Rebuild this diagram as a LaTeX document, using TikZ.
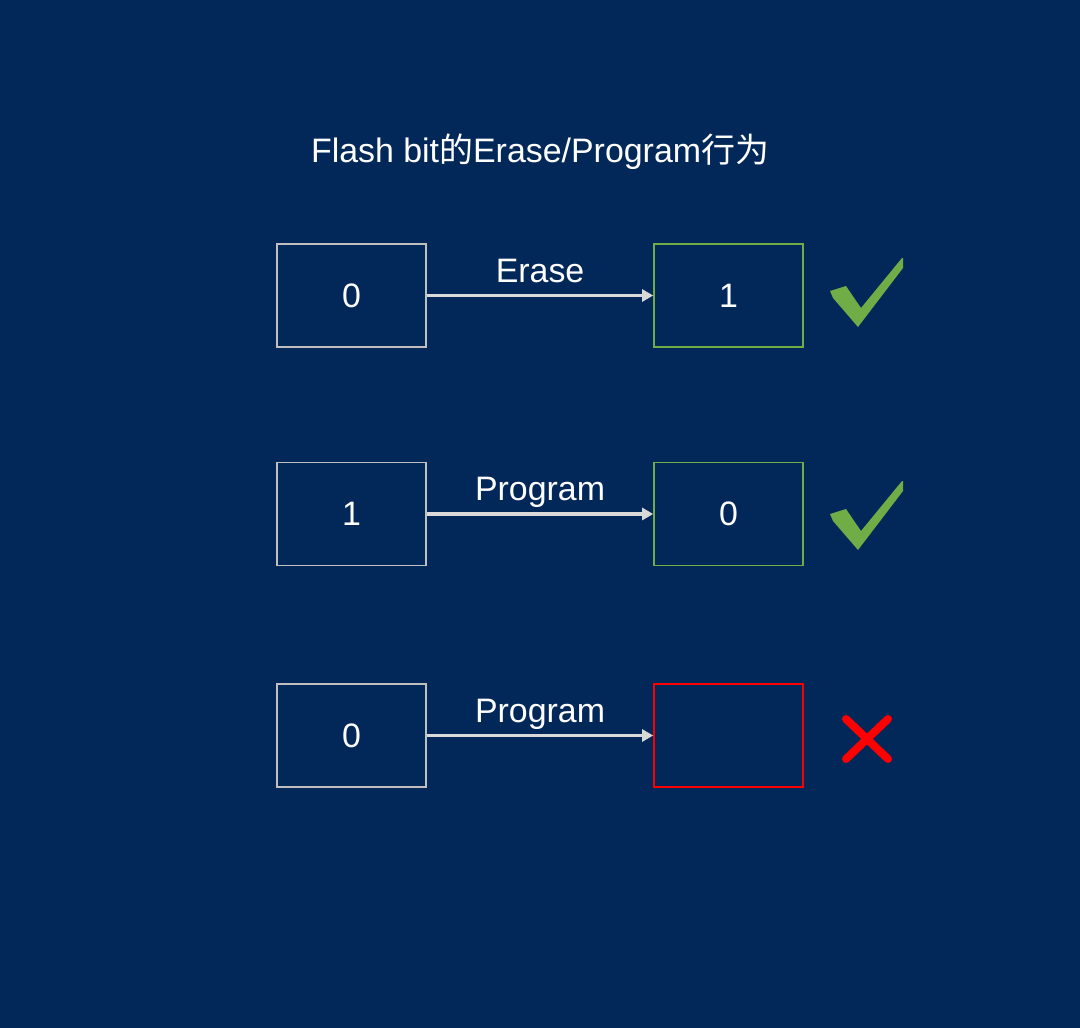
\documentclass[tikz,border=0pt]{standalone}
\usepackage{fontspec}
\setmainfont{Liberation Sans}
\newfontfamily\cjk{Noto Sans CJK SC}
\usetikzlibrary{arrows.meta}
\definecolor{bgnavy}{HTML}{02285A}
\definecolor{boxgray}{HTML}{BFBFBF}
\definecolor{arrowgray}{HTML}{D9D9D9}
\definecolor{okgreen}{HTML}{70AD47}
\definecolor{badred}{HTML}{FF0000}
\newcommand{\bigtext}{\fontsize{19.3}{23}\selectfont}
\tikzset{
  bitbox/.style={draw=boxgray, minimum width=2.98cm, minimum height=2.06cm,
    inner sep=0pt, line width=1.1pt, text=white, font=\bigtext},
  okbox/.style={bitbox, draw=okgreen},
  badbox/.style={bitbox, draw=badred},
  opflow/.style={-{Triangle[length=0.22cm, width=0.24cm]}, line width=2pt,
    color=arrowgray},
  oplabel/.style={anchor=base, yshift=0.27cm, text=white, font=\bigtext},
  headline/.style={anchor=base, text=white, font=\bigtext},
  tick/.style={fill=okgreen},
  cross/.style={draw=badred, line width=0.16cm, line cap=round},
}
\begin{document}
\begin{tikzpicture}[x=0.02cm,y=-0.02cm]
  % page: 1080 x 1028 px
  \path[use as bounding box, fill=bgnavy] (0,0) rectangle (1080,1028);
  \node[headline] (title) at (540,162)
    {Flash bit{\cjk 的}Erase/Program{\cjk 行为}};
  % one row per operation
  \foreach \r/\y/\a/\b/\op/\kind in {1/295.5/0/1/Erase/okbox,
      2/514/1/0/Program/okbox, 3/735.5/0/{}/Program/badbox} {
    \node[bitbox] (src\r) at (351.5,\y) {\a};
    \node[\kind] (dst\r) at (728.6,\y) {\b};
    \draw[opflow] (src\r) -- node[oplabel] (op\r) {\op} (dst\r);
  }
  % allowed: tick marks
  \foreach \dy in {0,223} {
    \fill[tick, shift={(0,\dy)}] (830,291) -- (846,286) -- (861,308)
      -- (902,258) -- (903,258) -- (903,268) -- (858,327) -- (833,298) -- cycle;
  }
  % not allowed
  \draw[cross] (846,719) -- (888,759) (888,719) -- (846,759);
\end{tikzpicture}
\end{document}
